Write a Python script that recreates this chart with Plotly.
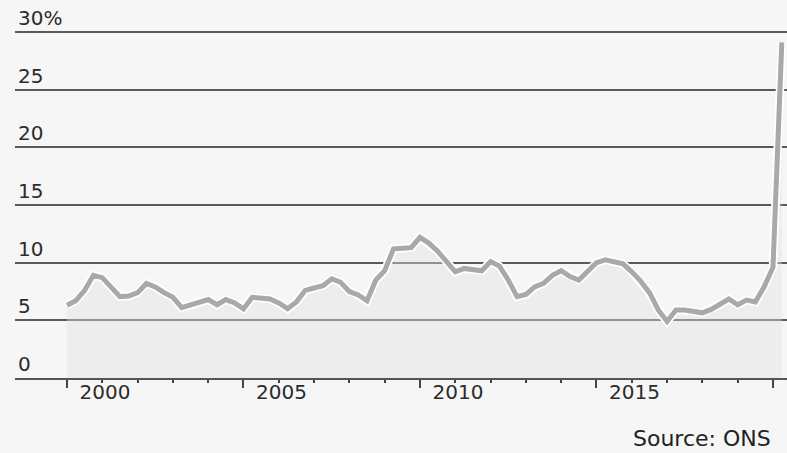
import plotly.graph_objects as go

# Quarterly household saving ratio (%), 2000 Q1 - 2020 Q2
years = list(range(2000, 2021))
quarters = [y + q / 4 for y in years for q in range(4)][:82]
saving_ratio = [
    6.3, 6.7, 7.6, 8.9,
    8.7, 7.8, 7.05, 7.1,
    7.4, 8.2, 7.9, 7.4,
    7.0, 6.1, 6.3, 6.6,
    6.8, 6.35, 6.8, 6.5,
    6.0, 7.0, 6.95, 6.85,
    6.5, 6.0, 6.6, 7.6,
    7.8, 8.0, 8.6, 8.3,
    7.5, 7.2, 6.7, 8.5,
    9.3, 11.2, 11.25, 11.3,
    12.2, 11.7, 11.0, 10.1,
    9.2, 9.5, 9.35, 9.3,
    10.1, 9.7, 8.5, 7.05,
    7.25, 7.9, 8.2, 8.9,
    9.3, 8.8, 8.5, 9.2,
    10.0, 10.25, 10.1, 9.9,
    9.2, 8.4, 7.4, 5.9,
    4.9, 5.9, 5.9, 5.8,
    5.65, 5.95, 6.4, 6.85,
    6.35, 6.75, 6.6, 7.9,
    9.6, 29.1,
]

y_tickvals = [0, 5, 10, 15, 20, 25, 30]
y_ticktext = ["0", "5", "10", "15", "20", "25", "30%"]
x_tickvals = [2000, 2005, 2010, 2015, 2020]
x_ticktext = ["2000", "2005", "2010", "2015", ""]
source_text = "Source: ONS"

FONT = "DejaVu Sans"
TOP, BOT = 1, 75
PLOT_H = 453 - TOP - BOT
PX_PER_UNIT = (378 - 32) / 30
Y_MAX = 30 + (32 - TOP) / PX_PER_UNIT

fig = go.Figure()
fig.add_trace(go.Scatter(
    x=quarters, y=saving_ratio, mode="lines",
    line=dict(color="#ececec", width=0),
    fill="tozeroy", fillcolor="rgba(225,225,225,0.4)",
    hoverinfo="skip", showlegend=False,
))
fig.add_trace(go.Scatter(
    x=quarters, y=saving_ratio, mode="lines",
    line=dict(color="#ffffff", width=8.5),
    hoverinfo="skip", showlegend=False,
))
fig.add_trace(go.Scatter(
    x=quarters, y=saving_ratio, mode="lines",
    line=dict(color="#a9a9a9", width=5),
    showlegend=False,
))

fig.update_layout(
    width=787, height=453,
    margin=dict(l=15, r=0, t=TOP, b=BOT),
    paper_bgcolor="#f6f6f6",
    plot_bgcolor="rgba(0,0,0,0)",
    font=dict(family=FONT, size=20, color="#2b2b2b"),
    xaxis=dict(
        range=[1998.527, 2020.397],
        tickmode="array", tickvals=x_tickvals, ticktext=x_ticktext,
        ticks="outside", ticklen=8, tickwidth=1.5, tickcolor="#444",
        ticklabelshift=38, ticklabelstandoff=-13,
        minor=dict(tickmode="linear", tick0=2000, dtick=1, ticks="outside",
                   ticklen=3, tickwidth=1.5, tickcolor="#444", showgrid=False),
        showgrid=False, zeroline=False,
        showline=True, linecolor="#555", linewidth=2,
        tickfont=dict(family=FONT, size=20, color="#2b2b2b"),
    ),
    yaxis=dict(
        range=[0, Y_MAX],
        tickmode="array", tickvals=y_tickvals, ticktext=y_ticktext,
        ticklabelposition="inside top", ticks="",
        showgrid=True, gridcolor="#5a5a5a", gridwidth=2,
        zeroline=False, showline=False,
        tickfont=dict(family=FONT, size=20, color="#2b2b2b"),
    ),
    annotations=[dict(
        text=source_text, xref="paper", yref="paper",
        x=(631 - 15) / 772, y=-(453 - 378) / PLOT_H,
        xanchor="left", yanchor="bottom",
        showarrow=False, font=dict(family=FONT, size=22, color="#222"),
    )],
)

fig.write_html("out.html")
